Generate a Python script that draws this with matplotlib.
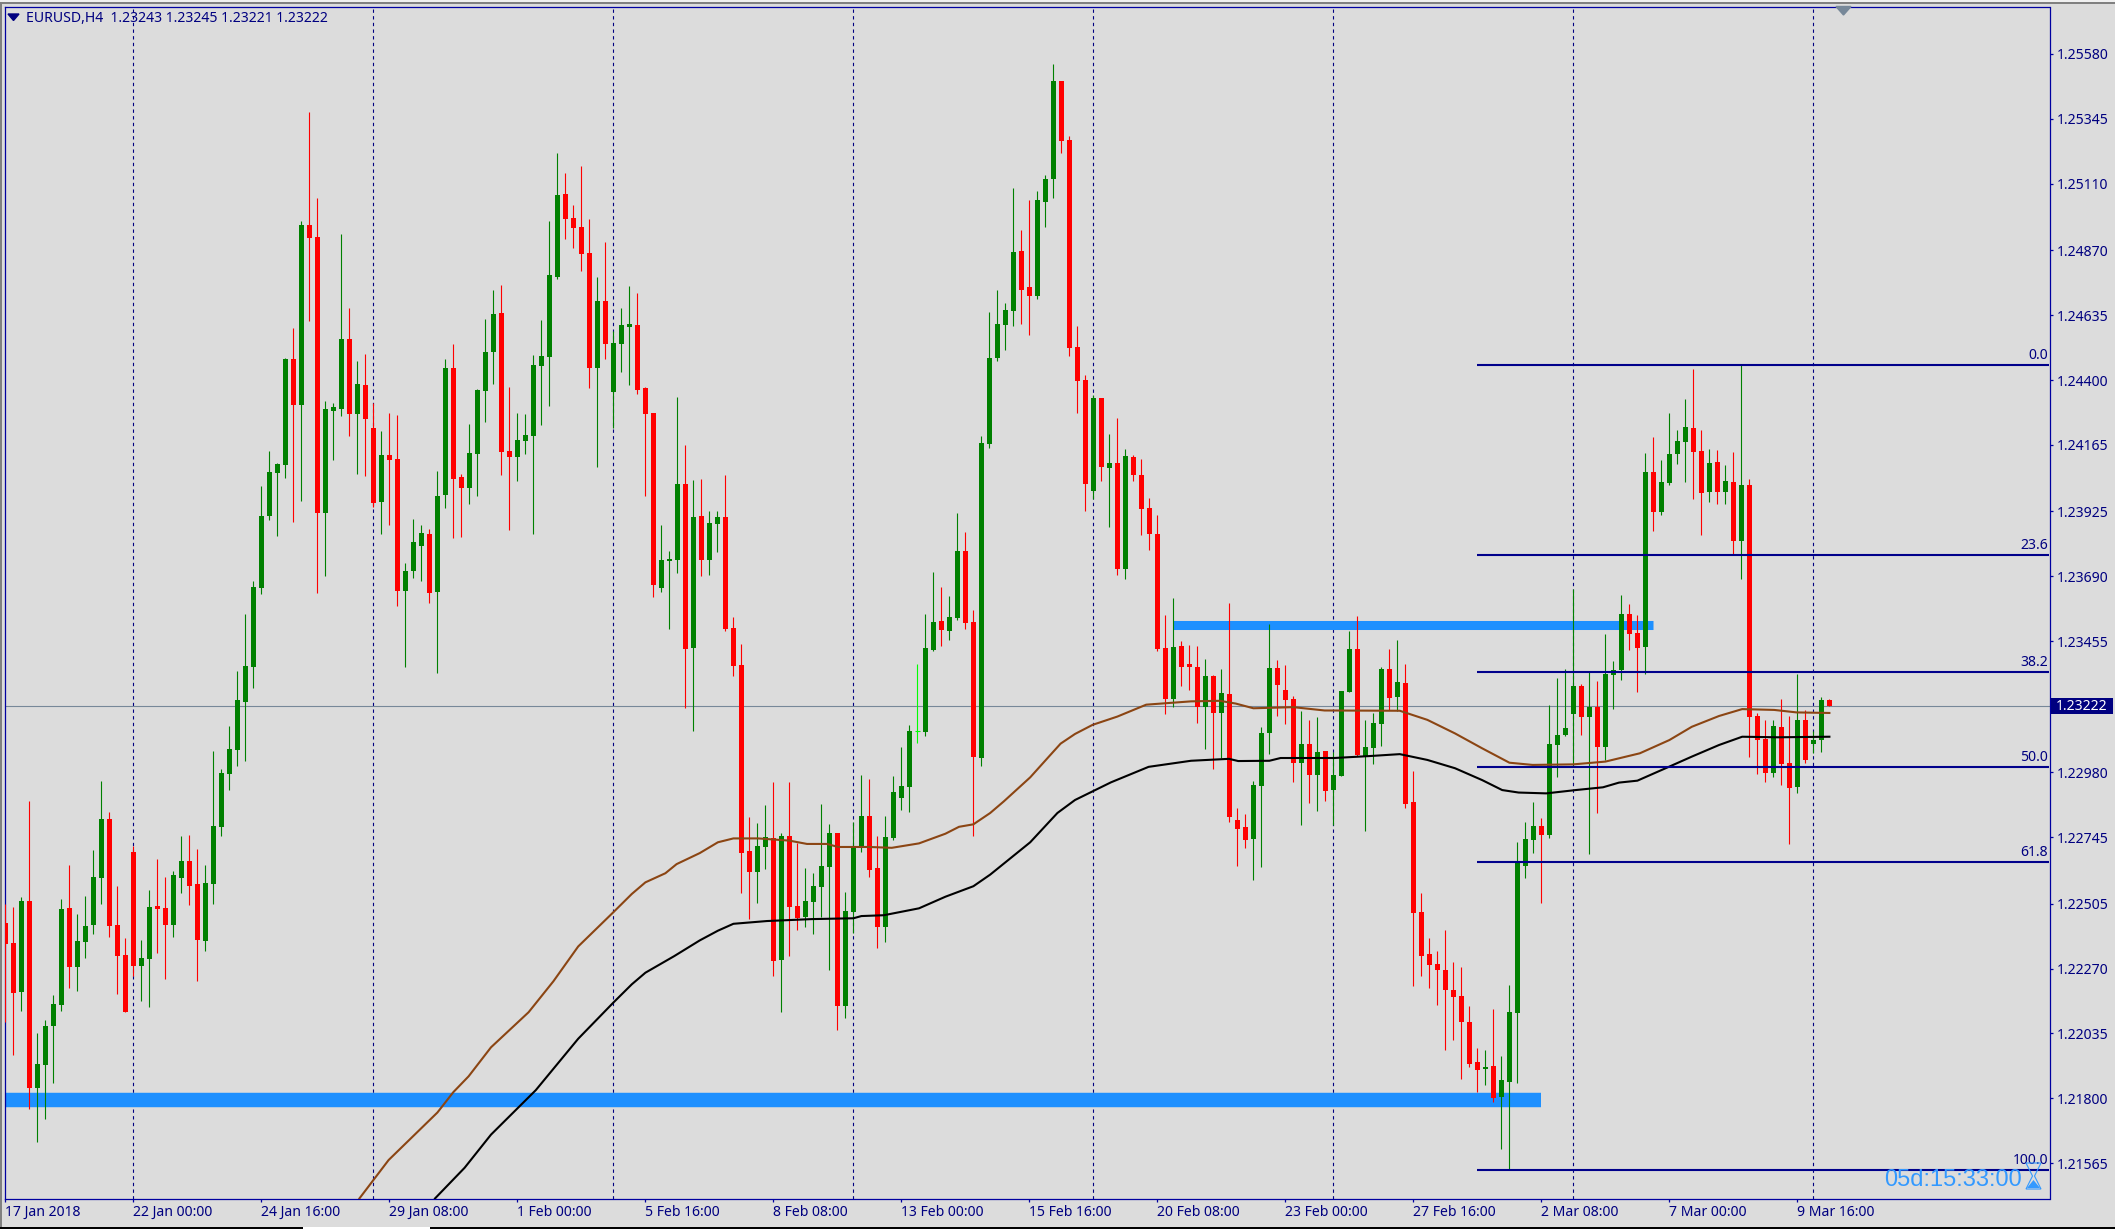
import matplotlib
matplotlib.use("Agg")
import matplotlib.pyplot as plt
from matplotlib.patches import Polygon, Rectangle

plt.rcParams["font.family"] = ["Noto Sans", "DejaVu Sans"]

opens = [
    1.22435,1.22362,1.22185,1.22515,1.21837,1.21920,1.22062,1.22138,1.22488,1.22276,
    1.22366,1.22428,1.22598,1.22811,1.22428,1.22318,1.22692,1.22279,1.22304,1.22497,
    1.22488,1.22428,1.22598,1.22658,1.22575,1.22370,1.22575,1.22782,1.22973,1.23060,
    1.23234,1.23362,1.23647,1.23908,1.24064,1.24094,1.24476,1.24311,1.24961,1.24918,
    1.23919,1.24288,1.24295,1.24549,1.24277,1.24381,1.24227,1.23958,1.24128,1.24114,
    1.23636,1.23709,1.23799,1.23842,1.23633,1.23983,1.24443,1.24049,1.24009,1.24132,
    1.24360,1.24501,1.24642,1.24142,1.24121,1.24179,1.24197,1.24450,1.24483,1.24772,
    1.25072,1.24987,1.24954,1.24859,1.24443,1.24686,1.24357,1.24530,1.24592,1.24599,
    1.24371,1.24281,1.23647,1.23744,1.23749,1.24023,1.23431,1.23907,1.23748,1.23878,
    1.23904,1.23502,1.23368,1.22695,1.22619,1.22710,1.22741,1.22301,1.22750,1.22497,
    1.22456,1.22511,1.22565,1.22637,1.22761,1.22134,1.22474,1.22709,1.22821,1.22633,
    1.22421,1.22741,1.22887,1.22927,1.23129,1.23126,1.23422,1.23528,1.23491,1.23538,
    1.23781,1.23524,1.23032,1.24169,1.24479,1.24598,1.24650,1.24866,1.24736,1.24704,
    1.25043,1.25126,1.25481,1.25268,1.24520,1.24399,1.23997,1.24335,1.24082,1.24099,
    1.23715,1.24120,1.24056,1.23936,1.23843,1.23429,1.23246,1.23437,1.23372,1.23361,
    1.23216,1.23329,1.23195,1.23263,1.22807,1.22782,1.22738,1.22931,1.23122,1.23357,
    1.23279,1.23246,1.23014,1.23083,1.22970,1.23059,1.22915,1.22966,1.23271,1.23426,
    1.23039,1.23069,1.23156,1.23353,1.23254,1.23305,1.22873,1.22473,1.22324,1.22288,
    1.22266,1.22194,1.22172,1.22077,1.21932,1.21908,1.21918,1.21805,1.21860,1.22110,
    1.22640,1.22735,1.22786,1.22753,1.23079,1.23115,1.23191,1.23293,1.23180,1.23217,
    1.23072,1.23332,1.23351,1.23553,1.23484,1.23434,1.24067,1.23922,1.24027,1.24132,
    1.24176,1.24226,1.24143,1.23995,1.24103,1.23995,1.24031,1.23817,1.24020,1.23184,
    1.23101,1.22978,1.23144,1.23014,1.22927,1.23170,1.23083,1.23097,1.23243,
]
closes = [
    1.22360,1.22182,1.22515,1.21837,1.21925,1.22062,1.22141,1.22485,1.22276,1.22370,
    1.22424,1.22601,1.22811,1.22424,1.22315,1.22113,1.22279,1.22308,1.22492,1.22485,
    1.22428,1.22608,1.22658,1.22568,1.22373,1.22580,1.22786,1.22977,1.23064,1.23241,
    1.23365,1.23650,1.23908,1.24066,1.24096,1.24476,1.24311,1.24961,1.24915,1.23919,
    1.24295,1.24302,1.24549,1.24277,1.24385,1.24258,1.23955,1.24128,1.24111,1.23636,
    1.23709,1.23813,1.23846,1.23628,1.23981,1.24443,1.24042,1.24009,1.24135,1.24365,
    1.24501,1.24639,1.24139,1.24121,1.24182,1.24201,1.24454,1.24487,1.24780,1.25070,
    1.24982,1.24949,1.24856,1.24443,1.24686,1.24530,1.24534,1.24599,1.24603,1.24364,
    1.24277,1.23659,1.23749,1.23752,1.24023,1.23426,1.23903,1.23748,1.23881,1.23904,
    1.23498,1.23365,1.22688,1.22619,1.22713,1.22745,1.22297,1.22750,1.22492,1.22452,
    1.22515,1.22568,1.22641,1.22761,1.22134,1.22478,1.22709,1.22821,1.22626,1.22421,
    1.22745,1.22908,1.22931,1.23129,1.23129,1.23430,1.23524,1.23495,1.23542,1.23781,
    1.23521,1.23035,1.24172,1.24479,1.24603,1.24653,1.24863,1.24726,1.24704,1.25050,
    1.25126,1.25481,1.25265,1.24515,1.24396,1.24023,1.24335,1.24085,1.24099,1.23715,
    1.24125,1.24056,1.23933,1.23843,1.23426,1.23246,1.23433,1.23361,1.23361,1.23216,
    1.23329,1.23195,1.23267,1.22818,1.22776,1.22736,1.22934,1.23122,1.23357,1.23296,
    1.23243,1.23014,1.23083,1.22970,1.23053,1.22913,1.22970,1.23274,1.23426,1.23042,
    1.23071,1.23159,1.23354,1.23250,1.23306,1.22867,1.22471,1.22317,1.22284,1.22263,
    1.22194,1.22168,1.22077,1.21925,1.21903,1.21914,1.21801,1.21867,1.22114,1.22652,
    1.22738,1.22786,1.22753,1.23083,1.23115,1.23141,1.23293,1.23180,1.23217,1.23072,
    1.23336,1.23351,1.23553,1.23481,1.23430,1.24067,1.23922,1.24031,1.24132,1.24179,
    1.24230,1.24139,1.23991,1.24100,1.23995,1.24035,1.23817,1.24020,1.23180,1.23097,
    1.22978,1.23148,1.23010,1.22924,1.23170,1.23025,1.23097,1.23242,1.23222,
]
highs = [
    1.22505,1.22491,1.22528,1.22876,1.22037,1.22083,1.22173,1.22522,1.22644,1.22467,
    1.22532,1.22699,1.22948,1.22837,1.22568,1.22380,1.22713,1.22373,1.22554,1.22667,
    1.22601,1.22623,1.22750,1.22752,1.22702,1.22644,1.23057,1.22991,1.23147,1.23347,
    1.23553,1.23671,1.24016,1.24142,1.24101,1.24480,1.24587,1.24974,1.25370,1.25058,
    1.24324,1.24315,1.24928,1.24660,1.24469,1.24494,1.24318,1.24215,1.24281,1.24272,
    1.23737,1.23896,1.23875,1.23860,1.24071,1.24476,1.24530,1.24059,1.24241,1.24368,
    1.24620,1.24726,1.24743,1.24374,1.24281,1.24277,1.24491,1.24617,1.24975,1.25221,
    1.25148,1.25035,1.25174,1.24982,1.24772,1.24899,1.24577,1.24660,1.24740,1.24715,
    1.24374,1.24281,1.23875,1.23782,1.24338,1.24165,1.24038,1.24042,1.23926,1.23926,
    1.24056,1.23542,1.23443,1.22818,1.22796,1.22862,1.22945,1.22761,1.22945,1.22723,
    1.22633,1.22615,1.22865,1.22793,1.22761,1.22547,1.22800,1.22969,1.22956,1.22750,
    1.22821,1.22966,1.23071,1.23152,1.23372,1.23552,1.23705,1.23651,1.23618,1.23919,
    1.23851,1.23569,1.24198,1.24645,1.24726,1.24678,1.25095,1.24942,1.25050,1.25083,
    1.25142,1.25543,1.25481,1.25282,1.24595,1.24418,1.24345,1.24335,1.24205,1.24262,
    1.24150,1.24127,1.24113,1.23973,1.23911,1.23549,1.23611,1.23455,1.23441,1.23437,
    1.23392,1.23331,1.23354,1.23592,1.22851,1.22830,1.22948,1.23145,1.23517,1.23386,
    1.23368,1.23256,1.23202,1.23170,1.23180,1.23059,1.23053,1.23274,1.23492,1.23545,
    1.23170,1.23195,1.23361,1.23426,1.23458,1.23372,1.22985,1.22542,1.22379,1.22332,
    1.22408,1.22292,1.22277,1.22136,1.21983,1.21976,1.22125,1.21954,1.22212,1.22727,
    1.22799,1.22873,1.22815,1.23224,1.23322,1.23354,1.23644,1.23300,1.23343,1.23311,
    1.23481,1.23383,1.23622,1.23589,1.23550,1.24136,1.24194,1.24111,1.24281,1.24219,
    1.24331,1.24440,1.24219,1.24150,1.24147,1.24092,1.24139,1.24454,1.24042,1.23195,
    1.23170,1.23170,1.23246,1.23184,1.23336,1.23206,1.23130,1.23253,1.23245,
]
lows = [
    1.22076,1.21957,1.22116,1.21763,1.21644,1.21725,1.21856,1.22116,1.22200,1.22189,
    1.22308,1.22395,1.22504,1.22384,1.22178,1.22113,1.22242,1.22152,1.22131,1.22327,
    1.22232,1.22384,1.22543,1.22499,1.22225,1.22334,1.22504,1.22750,1.22915,1.23003,
    1.23021,1.23285,1.23624,1.23893,1.23835,1.24046,1.23886,1.23962,1.24613,1.23628,
    1.23690,1.24111,1.24270,1.24197,1.24059,1.24052,1.23942,1.23842,1.23875,1.23581,
    1.23361,1.23683,1.23673,1.23593,1.23341,1.23936,1.23827,1.23832,1.23950,1.23981,
    1.24248,1.24385,1.24056,1.23857,1.24035,1.24132,1.23842,1.24237,1.24305,1.24765,
    1.24911,1.24878,1.24795,1.24371,1.24085,1.24476,1.24227,1.24428,1.24381,1.24350,
    1.23981,1.23614,1.23633,1.23500,1.23700,1.23212,1.23129,1.23690,1.23694,1.23777,
    1.23491,1.23329,1.22543,1.22449,1.22506,1.22632,1.22242,1.22113,1.22315,1.22409,
    1.22421,1.22395,1.22456,1.22265,1.22048,1.22090,1.22400,1.22692,1.22601,1.22343,
    1.22366,1.22737,1.22845,1.22837,1.23085,1.23112,1.23419,1.23436,1.23459,1.23531,
    1.23498,1.22750,1.23003,1.24155,1.24468,1.24508,1.24595,1.24603,1.24562,1.24693,
    1.24953,1.25058,1.25221,1.24487,1.24281,1.23926,1.23970,1.24034,1.23867,1.23694,
    1.23680,1.24034,1.23838,1.23784,1.23419,1.23191,1.23216,1.23292,1.23278,1.23159,
    1.23064,1.22991,1.23031,1.22800,1.22641,1.22706,1.22591,1.22637,1.23046,1.23185,
    1.23154,1.22945,1.22789,1.22869,1.22840,1.22876,1.22789,1.22966,1.23271,1.23039,
    1.22768,1.23010,1.23076,1.23205,1.23201,1.22852,1.22206,1.22244,1.22201,1.22139,
    1.21976,1.22012,1.21870,1.21914,1.21823,1.21849,1.21787,1.21616,1.21544,1.21856,
    1.22597,1.22687,1.22506,1.22741,1.22963,1.23112,1.23007,1.23115,1.22684,1.22833,
    1.23025,1.23209,1.23314,1.23423,1.23271,1.23336,1.23854,1.23911,1.24020,1.24096,
    1.24031,1.23969,1.23839,1.23959,1.23951,1.23951,1.23770,1.23680,1.23036,1.22974,
    1.22945,1.22963,1.22934,1.22721,1.22905,1.23014,1.23050,1.23054,1.23221,
]

# moving averages, read at a few bars along each line
brown_bars = [44.25,47.9,54.0,56.0,57.9,60.7,65.4,68.5,71.6,76.0,78.3,80.0,82.5,83.9,86.8,
              89.06,91.0,94.1,98.0,100.2,102.7,104.1,108.0,110.8,114.2,117.5,119.2,121.0,
              123.1,124.8,128.1,130.4,131.9,133.7,135.9,139.0,142.6,148.2,151.8,153.8,
              156.0,161.0,164.9,174.3,177.75,181.2,184.6,188.0,190.9,196.0,200.0,204.3,
              208.0,210.8,214.2,217.1,221.1,223.9,228.0]
brown_vals = [1.21438,1.21577,1.21749,1.21823,1.21880,1.21985,1.22112,1.22224,1.22350,1.22474,
              1.22540,1.22582,1.22615,1.22648,1.22688,1.22727,1.22741,1.22741,1.22733,1.22721,
              1.22721,1.22710,1.22710,1.22707,1.22723,1.22758,1.22783,1.22792,1.22833,1.22875,
              1.22962,1.23036,1.23084,1.23119,1.23152,1.23182,1.23225,1.23237,1.23239,1.23229,
              1.23212,1.23216,1.23204,1.23203,1.23170,1.23121,1.23067,1.23015,1.23007,1.23009,
              1.23019,1.23049,1.23097,1.23145,1.23184,1.23209,1.23206,1.23197,1.23195]
black_bars = [53.7,57.4,60.7,66.3,71.6,76.0,78.3,80.0,83.6,86.8,89.06,91.0,95.2,100.8,106.0,
              107.0,109.8,114.2,117.5,121.0,123.1,128.1,131.5,133.7,138.2,142.9,148.2,152.95,
              154.1,158.0,159.4,166.1,170.5,174.3,177.75,181.2,184.6,187.1,189.15,192.6,
              196.3,199.7,201.7,204.0,208.0,210.8,214.2,217.1,221.6,228.0]
black_vals = [1.21438,1.21549,1.21669,1.21830,1.22016,1.22147,1.22213,1.22255,1.22315,1.22372,
              1.22407,1.22432,1.22442,1.22449,1.22452,1.22460,1.22463,1.22488,1.22530,1.22568,
              1.22610,1.22727,1.22833,1.22880,1.22944,1.23000,1.23022,1.23029,1.23021,1.23022,
              1.23032,1.23032,1.23039,1.23046,1.23025,1.22995,1.22952,1.22916,1.22907,1.22904,
              1.22916,1.22926,1.22943,1.22950,1.23001,1.23037,1.23079,1.23109,1.23107,1.23109]

price_ticks = [1.25580,1.25345,1.25110,1.24870,1.24635,1.24400,1.24165,1.23925,1.23690,
               1.23455,1.22980,1.22745,1.22505,1.22270,1.22035,1.21800,1.21565]
date_labels = ["17 Jan 2018","22 Jan 00:00","24 Jan 16:00","29 Jan 08:00","1 Feb 00:00",
               "5 Feb 16:00","8 Feb 08:00","13 Feb 00:00","15 Feb 16:00","20 Feb 08:00",
               "23 Feb 00:00","27 Feb 16:00","2 Mar 08:00","7 Mar 00:00","9 Mar 16:00"]
date_bars = [0,16,32,48,64,80,96,112,128,144,160,176,192,208,224]
separator_bars = [16,46,76,106,136,166,196,226]

fib_labels = ["0.0","23.6","38.2","50.0","61.8","100.0"]
fib_prices = [1.24454,1.23767,1.23343,1.22998,1.22654,1.21540]
fib_start = 184

last_price = 1.23222
lower_zone = (-1, 192, 1.21793)
upper_zone = (146, 206, 1.23512)

NAVY = "#000080"
TEXT_SIZE = 10.1
W, H = 2115, 1229
AX_L, AX_R, AX_T, AX_B = 4.5, 2049.5, 6.5, 1198.5


def fx(px):
    return px / W


def fy(py):
    return 1 - py / H


fig = plt.figure(figsize=(W / 100, H / 100), dpi=100, facecolor="#DCDCDC")
ax = fig.add_axes([fx(AX_L), fy(AX_B), (AX_R - AX_L) / W, (AX_B - AX_T) / H], facecolor="#DCDCDC")
ax.set_xlim((AX_L - 5.4) / 8, (AX_R - 5.4) / 8)
ax.set_ylim(1.24400 - (AX_B - 380) * 3.619e-5, 1.24400 + (380 - AX_T) * 3.619e-5)

for s in ax.spines.values():
    s.set_color("#0000A0")
    s.set_linewidth(0.9)

ax.vlines(separator_bars, *ax.get_ylim(), color=NAVY, lw=0.8, linestyles=(0, (3, 3)), zorder=1)
ax.axhline(last_price, color="#778899", lw=0.8, zorder=1)

ax.hlines(lower_zone[2], lower_zone[0], lower_zone[1], color="#1E90FF", lw=10.4, zorder=2, capstyle="butt")
ax.hlines(upper_zone[2], upper_zone[0], upper_zone[1], color="#1E90FF", lw=6.5, zorder=2, capstyle="butt")

for i in range(len(opens)):
    o, c = opens[i], closes[i]
    col = "#008000" if c > o else "#FF0000" if c < o else "#00FF00"
    ax.vlines(i, lows[i], highs[i], color=col, lw=0.8, zorder=3)
    if c == o:
        ax.hlines(o, i - 0.31, i + 0.31, color=col, lw=0.8, zorder=3)
    else:
        ax.bar(i, abs(c - o), bottom=min(o, c), width=0.65, color=col, lw=0, zorder=3)

ax.plot(brown_bars, brown_vals, color="#8B4513", lw=1.5, zorder=4)
ax.plot(black_bars, black_vals, color="black", lw=1.5, zorder=4)

ax.hlines(fib_prices, fib_start, ax.get_xlim()[1], color="#00008B", lw=1.5, zorder=5)
for lab, p in zip(fib_labels, fib_prices):
    ax.annotate(lab, (1, p), xycoords=("axes fraction", "data"), xytext=(-1, 1.5),
                textcoords="offset points", ha="right", va="bottom", color=NAVY,
                fontsize=TEXT_SIZE, zorder=6)

ax.yaxis.tick_right()
ax.set_yticks(price_ticks)
ax.set_yticklabels(["%.5f" % p for p in price_ticks])
ax.tick_params(axis="y", length=2.2, width=0.9, color="#0000A0", labelcolor=NAVY, labelsize=TEXT_SIZE, pad=3.2)
ax.set_xticks(date_bars)
ax.set_xticklabels(date_labels, ha="left")
ax.tick_params(axis="x", length=2.5, width=0.9, color="#0000A0", labelcolor=NAVY, labelsize=TEXT_SIZE, pad=2.2)

# header and corner items
fig.text(fx(26), fy(18), "EURUSD,H4  1.23243 1.23245 1.23221 1.23222", color=NAVY, fontsize=TEXT_SIZE, va="center")
fig.patches.append(Polygon([[fx(8), fy(14)], [fx(19), fy(14)], [fx(13.5), fy(20.5)]], closed=True,
                           transform=fig.transFigure, color=NAVY, figure=fig))
fig.patches.append(Polygon([[fx(1836), fy(6.5)], [fx(1851), fy(6.5)], [fx(1843.5), fy(15)]], closed=True,
                           transform=fig.transFigure, color="#778899", figure=fig))

# current price box
fig.patches.append(Rectangle((fx(2051), fy(714)), 62 / W, 16 / H, transform=fig.transFigure,
                             color=NAVY, lw=0, figure=fig))
fig.text(fx(2082), fy(706), "%.5f" % last_price, color="white", fontsize=TEXT_SIZE, ha="center", va="center")

# countdown, the hourglass glyph is in none of the installed fonts so it is drawn as a shape
fig.text(fx(2022), fy(1179.5), "05d:15:33:00", color="#3399FF", fontsize=17, ha="right", va="center",
         family=["Liberation Sans"], zorder=7)
fig.patches.append(Polygon([[fx(2026), fy(1163)], [fx(2041), fy(1163)], [fx(2034.5), fy(1176)],
                            [fx(2041), fy(1189)], [fx(2026), fy(1189)], [fx(2032.5), fy(1176)]], closed=True,
                           transform=fig.transFigure, fc="none", ec="#3399FF", lw=0.8, figure=fig, zorder=8))
fig.patches.append(Polygon([[fx(2027), fy(1188)], [fx(2040), fy(1188)], [fx(2033.5), fy(1180)]], closed=True,
                           transform=fig.transFigure, color="#3399FF", lw=0, figure=fig, zorder=8))

# window frame
for (x, y, w, h, col) in [(0, 0, W, 2, "#F0F0F0"), (0, 2, W, 2, "#808080"), (0, 4, 1.5, H, "#808080"),
                          (0, 1227, 303, 2, "black"), (303, 1227, 127, 2, "white"), (430, 1227, W - 430, 2, "black")]:
    fig.patches.append(Rectangle((fx(x), fy(y + h)), w / W, h / H, transform=fig.transFigure,
                                 color=col, lw=0, figure=fig))

fig.savefig("out.png", dpi=100, facecolor=fig.get_facecolor())
